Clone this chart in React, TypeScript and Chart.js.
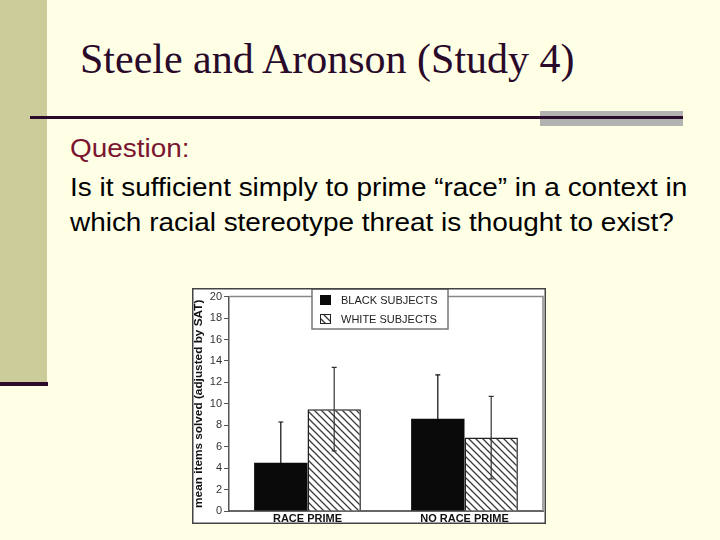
import React, { useEffect, useRef } from "react";
import { Chart, registerables } from "chart.js";

Chart.register(...registerables);

const categories = ["RACE PRIME", "NO RACE PRIME"];
const seriesLabels = ["BLACK SUBJECTS", "WHITE SUBJECTS"];
const blackValues = [4.5, 8.6];
const whiteValues = [9.5, 6.85];
const blackErrors = [3.8, 4.1];
const whiteErrors = [3.9, 3.85];
const yMin = 0;
const yMax = 20;
const yStep = 2;
const yTitle = "mean items solved (adjusted by SAT)";

const titleText = "Steele and Aronson (Study 4)";
const questionLabel = "Question:";
const questionLines = [
  "Is it sufficient simply to prime \u201crace\u201d in a context in",
  "which racial stereotype threat is thought to exist?",
];

function makeHatch(): CanvasPattern | string {
  const c = document.createElement("canvas");
  const s = 7;
  c.width = s;
  c.height = s;
  const g = c.getContext("2d");
  if (!g) return "#fff";
  g.fillStyle = "#ffffff";
  g.fillRect(0, 0, s, s);
  g.strokeStyle = "#3a3a3a";
  g.lineWidth = 1.3;
  g.beginPath();
  g.moveTo(-1, -1);
  g.lineTo(s + 1, s + 1);
  g.moveTo(-1, s - 1);
  g.lineTo(1, s + 1);
  g.moveTo(s - 1, -1);
  g.lineTo(s + 1, 1);
  g.stroke();
  const p = g.createPattern(c, "repeat");
  return p || "#fff";
}

const errorBarPlugin = {
  id: "errorBars",
  afterDatasetsDraw(chart: any) {
    const ctx = chart.ctx;
    const y = chart.scales.y;
    chart.data.datasets.forEach((ds: any, i: number) => {
      const meta = chart.getDatasetMeta(i);
      const errs: number[] = ds.errors || [];
      meta.data.forEach((el: any, j: number) => {
        const v = ds.data[j];
        const e = errs[j];
        if (e == null) return;
        const x = el.x;
        const top = y.getPixelForValue(v + e);
        const bot = y.getPixelForValue(v - e);
        ctx.save();
        ctx.strokeStyle = ds.errorColor || "#333";
        ctx.lineWidth = 1.2;
        ctx.beginPath();
        ctx.moveTo(x, top);
        ctx.lineTo(x, bot);
        ctx.moveTo(x - 2.5, top);
        ctx.lineTo(x + 2.5, top);
        ctx.moveTo(x - 2.5, bot);
        ctx.lineTo(x + 2.5, bot);
        ctx.stroke();
        ctx.restore();
      });
    });
  },
};

const framePlugin = {
  id: "frame",
  beforeDraw(chart: any) {
    const ctx = chart.ctx;
    ctx.save();
    ctx.fillStyle = "#ffffff";
    ctx.fillRect(0, 0, chart.width, chart.height);
    ctx.restore();
  },
  afterDraw(chart: any) {
    const ctx = chart.ctx;
    const a = chart.chartArea;
    ctx.save();
    ctx.strokeStyle = "#888";
    ctx.lineWidth = 1.5;
    ctx.beginPath();
    ctx.moveTo(a.left, a.top);
    ctx.lineTo(a.right, a.top);
    ctx.lineTo(a.right, a.bottom);
    ctx.stroke();
    // legend box
    const lx = 120;
    const ly = 1;
    const lw = 136;
    const lh = 40;
    ctx.fillStyle = "#ffffff";
    ctx.fillRect(lx, ly, lw, lh);
    ctx.strokeStyle = "#777";
    ctx.lineWidth = 1.5;
    ctx.strokeRect(lx, ly, lw, lh);
    chart.data.datasets.forEach((ds: any, i: number) => {
      const cy = ly + 11 + i * 19;
      const sx = lx + 8;
      ctx.fillStyle = ds.backgroundColor;
      ctx.fillRect(sx, cy - 5, 11, 10);
      if (ds.borderWidth) {
        ctx.strokeStyle = "#222";
        ctx.lineWidth = 1;
        ctx.strokeRect(sx + 0.5, cy - 4.5, 10, 9);
      }
      ctx.fillStyle = "#222";
      ctx.font = "11px 'Liberation Sans', Arial, sans-serif";
      ctx.textBaseline = "middle";
      ctx.textAlign = "left";
      ctx.fillText(ds.label, sx + 21, cy + 0.5);
    });
    // outer border
    ctx.strokeStyle = "#444";
    ctx.lineWidth = 1.5;
    ctx.strokeRect(0.75, 0.75, chart.width - 1.5, chart.height - 1.5);
    ctx.restore();
  },
};

function BarChart() {
  const ref = useRef<HTMLCanvasElement | null>(null);
  useEffect(() => {
    if (!ref.current) return;
    const hatch = makeHatch();
    const chart = new Chart(ref.current, {
      type: "bar",
      data: {
        labels: categories,
        datasets: [
          {
            label: seriesLabels[0],
            data: blackValues,
            errors: blackErrors,
            errorColor: "#0a0a0a",
            backgroundColor: "#0a0a0a",
            borderWidth: 0,
            categoryPercentage: 0.68,
            barPercentage: 1,
          } as any,
          {
            label: seriesLabels[1],
            data: whiteValues,
            errors: whiteErrors,
            errorColor: "#333",
            backgroundColor: hatch,
            borderColor: "#222",
            borderWidth: 1.5,
            categoryPercentage: 0.68,
            barPercentage: 1,
          } as any,
        ],
      },
      options: {
        animation: false,
        responsive: false,
        devicePixelRatio: 1,
        layout: { padding: { top: 8, right: 3, left: 0, bottom: 1 } },
        plugins: {
          legend: { display: false },
          tooltip: { enabled: false },
        },
        scales: {
          x: {
            grid: { display: true, drawOnChartArea: false, drawTicks: false },
            border: { display: true, color: "#666", width: 2 },
            ticks: {
              padding: 1,
              color: "#111",
              font: { family: "'Liberation Sans', Arial, sans-serif", size: 11, weight: "bold" },
            },
            afterFit: (s: any) => {
              s.height = 12;
            },
          },
          y: {
            min: yMin,
            max: yMax,
            ticks: {
              stepSize: yStep,
              padding: 2,
              color: "#333",
              font: { family: "'Liberation Sans', Arial, sans-serif", size: 11 },
            },
            grid: { drawOnChartArea: false, drawTicks: true, tickLength: 5, color: "#555" },
            border: { display: true, color: "#555", width: 1.5 },
            title: {
              display: true,
              text: yTitle,
              color: "#111",
              padding: 0,
              font: { family: "'Liberation Sans', Arial, sans-serif", size: 11.8, weight: "bold" },
            },
            afterFit: (s: any) => {
              s.width = 37;
            },
          },
        },
      } as any,
      plugins: [framePlugin, errorBarPlugin],
    });
    return () => chart.destroy();
  }, []);
  return <canvas ref={ref} width={354} height={236} style={{ display: "block" }} />;
}

const bodyStyle: React.CSSProperties = {
  position: "absolute",
  left: 70,
  fontFamily: "'Liberation Sans', Arial, sans-serif",
  fontSize: 25,
  lineHeight: "30px",
  whiteSpace: "nowrap",
  color: "#000",
  transform: "scaleX(1.117)",
  transformOrigin: "0 0",
};

export default function App() {
  const dark = "#2b0a2b";
  return (
    <div
      style={{
        position: "fixed",
        left: 0,
        top: 0,
        width: 720,
        height: 540,
        background: "#ffffe6",
        overflow: "hidden",
      }}
    >
      <div style={{ position: "absolute", left: 0, top: 0, width: 47, height: 383, background: "#cccc9a" }} />
      <div style={{ position: "absolute", left: 0, top: 382, width: 48, height: 4, background: dark }} />
      <div style={{ position: "absolute", left: 540, top: 111, width: 143, height: 15, background: "#b2b2b0" }} />
      <div style={{ position: "absolute", left: 30, top: 116, width: 653, height: 3, background: dark }} />
      <div
        style={{
          position: "absolute",
          left: 80,
          top: 38,
          fontFamily: "'Liberation Serif', 'Times New Roman', serif",
          fontSize: 42,
          lineHeight: "42px",
          color: "#2a0a2a",
          whiteSpace: "nowrap",
        }}
      >
        {titleText}
      </div>
      <div style={{ ...bodyStyle, top: 133, color: "#7a1530" }}>{questionLabel}</div>
      <div style={{ ...bodyStyle, top: 172 }}>{questionLines[0]}</div>
      <div style={{ ...bodyStyle, top: 207 }}>{questionLines[1]}</div>
      <div style={{ position: "absolute", left: 192, top: 288 }}>
        <BarChart />
      </div>
    </div>
  );
}
